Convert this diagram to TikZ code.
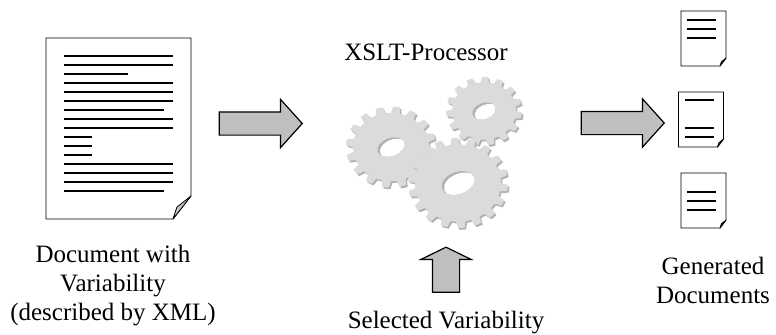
\documentclass[tikz,border=0pt]{standalone}
\usepackage{fontspec}
\setmainfont{Liberation Serif}
\usetikzlibrary{shapes,shapes.arrows,calc}

% one cog outline: teeth, root radius, tip radius
\newcommand{\cog}[3]{%
  (0:#2) \foreach \t in {1,...,#1}{
    arc[start angle={(\t-1)*360/#1}, end angle={(\t-0.62)*360/#1}, radius=#2]
    -- ({(\t-0.5)*360/#1}:#3)
    arc[start angle={(\t-0.5)*360/#1}, end angle={(\t-0.12)*360/#1}, radius=#3]
    -- ({\t*360/#1}:#2)
  } -- cycle}

% a shaded wheel: centre, teeth, root, tip, hole radii
\newcommand{\wheel}[6]{%
  \begin{scope}[shift={(#1)}]
    \begin{scope}[yscale=0.9]
      \fill[gray!60, shift={(1.5,-2)}] \cog{#2}{#3}{#4};
      \fill[gray!28] \cog{#2}{#3}{#4};
    \end{scope}
    \begin{scope}[rotate=20]
      \clip (0,0) ellipse[x radius=#5, y radius=#6];
      \fill[gray!60] (0,0) ellipse[x radius=#5, y radius=#6];
      \fill[white] (1.8,-2.2) ellipse[x radius=#5, y radius=#6];
    \end{scope}
  \end{scope}}

% sheet with a folded corner around an empty node: node, fold width, fold height
\newcommand{\sheet}[3]{%
  \draw[fill=white] (#1.north west) -- (#1.north east) -- ($(#1.south east)+(0,#3)$)
    -- ($(#1.south east)+(-#2,0)$) -- (#1.south west) -- cycle;
  \draw[fill=gray!45, line join=round] ($(#1.south east)+(-#2,0)$) -- ($(#1.south east)+(0,#3)$)
    -- ($(#1.south east)+(-0.78*#2,0.52*#3)$) -- cycle;
}

\begin{document}
\begin{tikzpicture}[x=0.5pt, y=0.5pt,
    every node/.style={font=\fontsize{12.5}{14.5}\selectfont},
    paper/.style={inner sep=0pt, outer sep=0pt},
    blockarrow/.style={single arrow, draw, fill=gray!50, inner xsep=0pt, line width=0.6pt,
      single arrow head indent=0pt},
    textline/.style={line width=0.6pt}]
  \useasboundingbox (0,0) rectangle (776,334);

  % input document
  \node [paper, minimum width=72.5pt, minimum height=90.5pt] (source) at (118.5,205.5) {};
  \sheet{source}{18}{23}
  \foreach \k/\len in {1/109,2/109,3/64,4/109,5/109,6/109,7/100,8/109,9/109,
      10/28,11/28,12/28,13/109,14/109,15/109,16/100}
    \draw [textline] ($(source.north west)+(18,-9-9*\k)$) -- ++(\len,0);
  \node [align=center, anchor=base] (srcLabel) at (113,14) {Document with\\ Variability\\ (described by XML)};

  % processor
  \coordinate (cogL) at (391,187);
  \coordinate (cogR) at (484,223);
  \coordinate (cogB) at (458,151);
  \wheel{cogL}{16}{38}{45}{14}{9}
  \wheel{cogR}{15}{32}{38}{12}{8}
  \wheel{cogB}{18}{43}{50}{17}{11}
  \node [anchor=base] (procLabel) at (426,274) {XSLT-Processor};

  \node [blockarrow, inner ysep=5.5pt, minimum height=41.5pt,
    single arrow head extend=6.25pt, single arrow tip angle=96] (toProc) at (255.5,210.5) {};
  \node [blockarrow, inner ysep=5.5pt, minimum height=41.5pt,
    single arrow head extend=6.25pt, single arrow tip angle=96] (toDocs) at (617.5,211) {};
  \node [blockarrow, rotate=90, inner ysep=6.5pt, minimum height=22.5pt,
    single arrow head extend=5.75pt, single arrow tip angle=128] (select) at (446,61) {};
  \node [anchor=base] (selLabel) at (446,6) {Selected Variability};

  % generated documents
  \node [paper, minimum width=22.5pt, minimum height=27.5pt] (outA) at (703.5,295.5) {};
  \node [paper, minimum width=22.5pt, minimum height=27.5pt] (outB) at (701,214.5) {};
  \node [paper, minimum width=22.5pt, minimum height=27.5pt] (outC) at (703.5,133.5) {};
  \sheet{outA}{6}{8}
  \sheet{outB}{6}{8}
  \sheet{outC}{6}{8}
  \foreach \d in {9,18,27}
    \draw [textline] ($(outA.north west)+(6,-\d)$) -- ++(29,0);
  \foreach \d in {8,36,45}
    \draw [textline] ($(outB.north west)+(6,-\d)$) -- ++(29,0);
  \foreach \d in {19,28,37}
    \draw [textline] ($(outC.north west)+(6,-\d)$) -- ++(29,0);
  \node [align=center, anchor=base] (genLabel) at (713,31) {Generated\\ Documents};
\end{tikzpicture}
\end{document}
